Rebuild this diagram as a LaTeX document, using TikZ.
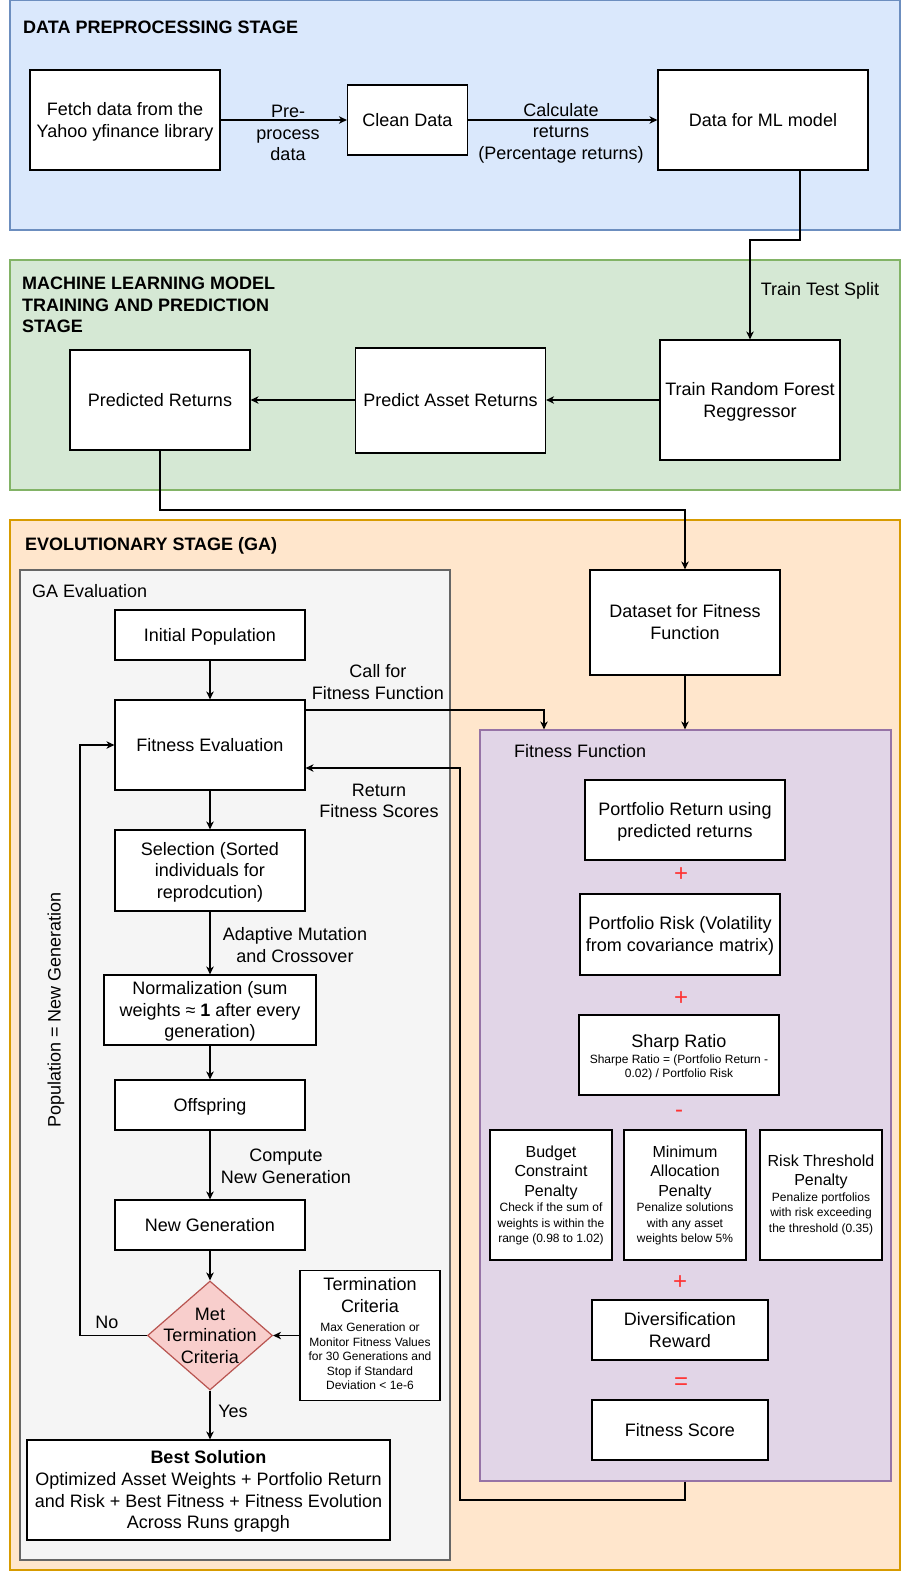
\documentclass[tikz,border=0pt]{standalone}
\usepackage{fontspec}
\setmainfont{Liberation Sans}
\usetikzlibrary{arrows.meta,shapes.geometric}
\definecolor{bluefill}{HTML}{DAE8FC}
\definecolor{bluedraw}{HTML}{6C8EBF}
\definecolor{greenfill}{HTML}{D5E8D4}
\definecolor{greendraw}{HTML}{82B366}
\definecolor{orangefill}{HTML}{FFE6CC}
\definecolor{orangedraw}{HTML}{D79B00}
\definecolor{grayfill}{HTML}{F5F5F5}
\definecolor{graydraw}{HTML}{666666}
\definecolor{purplefill}{HTML}{E1D5E7}
\definecolor{purpledraw}{HTML}{9673A6}
\definecolor{redfill}{HTML}{F8CECC}
\definecolor{reddraw}{HTML}{B85450}
\definecolor{signred}{HTML}{FF3333}
\newcommand{\mainfs}{\fontsize{18}{21.6}\selectfont}
\newcommand{\smallfs}{\fontsize{12}{14.4}\selectfont}
\newcommand{\midfs}{\fontsize{16}{19.2}\selectfont}
\newcommand{\signfs}{\fontsize{24}{28}\selectfont}
\tikzset{
  cont/.style={draw, line width=1.2pt, inner sep=0pt},
  box/.style={draw=black, fill=white, line width=1.2pt, align=center, inner sep=0pt, font=\mainfs},
  lbl/.style={align=center, inner sep=0pt, font=\mainfs},
  ttl/.style={align=left, inner sep=0pt, font=\mainfs\bfseries, anchor=west},
  sign/.style={inner sep=0pt, font=\signfs, text=signred},
  arr/.style={draw=black, line width=1.2pt, -{Stealth[length=8pt,width=7.5pt,inset=2.5pt]}},
  diam/.style={diamond, draw=reddraw, fill=redfill, line width=1.2pt, inner sep=0pt},
  dioA/.style={text height=17.04pt, text depth=4.56pt},
  dioB/.style={text height=38.64pt, text depth=4.56pt},
  dioC/.style={text height=60.24pt, text depth=4.56pt},
  dioD/.style={text height=81.84pt, text depth=4.56pt},
}
\begin{document}
\begin{tikzpicture}[x=1pt,y=-1pt]
\useasboundingbox (0,0) rectangle (901,1571);
\fill[white] (0,0) rectangle (901,1571);

% containers
\node[cont, draw=bluedraw, fill=bluefill, minimum width=890pt, minimum height=229.5pt] (blue) at (455,115.25) {};
\node[cont, draw=greendraw, fill=greenfill, minimum width=890pt, minimum height=230pt] (green) at (455,375) {};
\node[cont, draw=orangedraw, fill=orangefill, minimum width=890pt, minimum height=1050pt] (orange) at (455,1045) {};
\node[cont, draw=graydraw, fill=grayfill, minimum width=430pt, minimum height=990pt] (gray) at (235,1065) {};
\node[cont, draw=purpledraw, fill=purplefill, minimum width=411pt, minimum height=751pt] (purple) at (685.5,1105.5) {};

% titles
\node[ttl] (t1) at (23,27) {DATA PREPROCESSING STAGE};
\node[ttl] (t2) at (22,305) {MACHINE LEARNING MODEL\\TRAINING AND PREDICTION\\STAGE};
\node[ttl] (t3) at (25,546) {EVOLUTIONARY STAGE (GA)};
\node[lbl, anchor=west] (t4) at (32,591) {GA Evaluation};
\node[lbl, anchor=west] (t5) at (514,751) {Fitness Function};

% stage 1
\node[box, dioB, minimum width=190pt, minimum height=100pt] (fetch) at (125,120) {Fetch data from the\\Yahoo yfinance library};
\node[box, dioA, minimum width=120pt, minimum height=70pt] (clean) at (407.5,120) {Clean Data};
\node[box, dioA, minimum width=210pt, minimum height=100pt] (mldata) at (763,120) {Data for ML model};

% stage 2
\node[box, dioB, minimum width=180pt, minimum height=120pt] (train) at (750,400) {Train Random Forest\\Reggressor};
\node[box, dioA, minimum width=190pt, minimum height=105pt] (predict) at (450.5,400.5) {Predict Asset Returns};
\node[box, dioA, minimum width=180pt, minimum height=100pt] (predicted) at (160,400) {Predicted Returns};

% stage 3
\node[box, dioB, minimum width=190pt, minimum height=105pt] (dataset) at (685,622.5) {Dataset for Fitness\\Function};
\node[box, dioA, minimum width=190pt, minimum height=50pt] (initpop) at (210,635) {Initial Population};
\node[box, dioA, minimum width=190pt, minimum height=90pt] (fiteval) at (210,745) {Fitness Evaluation};
\node[box, dioC, minimum width=190pt, minimum height=81pt] (selection) at (210,870.5) {Selection (Sorted\\individuals for\\reprodcution)};
\node[box, dioC, minimum width=212pt, minimum height=70pt] (norm) at (210,1010) {Normalization (sum\\weights ≈ \textbf{1} after every\\generation)};
\node[box, dioA, minimum width=190pt, minimum height=50pt] (offspring) at (210,1105) {Offspring};
\node[box, dioA, minimum width=190pt, minimum height=50pt] (newgen) at (210,1225) {New Generation};
\node[diam, minimum width=125pt, minimum height=109pt] (dec) at (210,1335.5) {};
\node[lbl, dioC] (dectext) at (dec.center) {Met\\Termination\\Criteria};
\node[box, text height=112.8pt, text depth=4pt, minimum width=140pt, minimum height=130pt] (term) at (370,1335.5) {Termination\\Criteria\\[-1.8pt]{\smallfs Max Generation or}\\[-7.1pt]{\smallfs Monitor Fitness Values}\\[-7.1pt]{\smallfs for 30 Generations and}\\[-7.1pt]{\smallfs Stop if Standard}\\[-7.1pt]{\smallfs Deviation < 1e-6}};
\node[box, dioD, minimum width=363pt, minimum height=100pt] (best) at (208.5,1490) {\textbf{Best Solution}\\Optimized Asset Weights + Portfolio Return\\and Risk + Best Fitness + Fitness Evolution\\Across Runs grapgh};

% fitness function
\node[box, dioB, minimum width=200pt, minimum height=80pt] (portret) at (685,820) {Portfolio Return using\\predicted returns};
\node[box, dioB, minimum width=200pt, minimum height=81pt] (portrisk) at (680,934.5) {Portfolio Risk (Volatility\\from covariance matrix)};
\node[box, text height=48.6pt, text depth=4pt, minimum width=200pt, minimum height=80pt] (sharp) at (679,1055) {Sharp Ratio\\[-5.8pt]{\smallfs Sharpe Ratio = (Portfolio Return -}\\[-7.6pt]{\smallfs 0.02) / Portfolio Risk}};
\node[box, font=\midfs, text height=99.4pt, text depth=4pt, minimum width=122pt, minimum height=130pt] (budget) at (551,1195) {Budget\\Constraint\\Penalty\\[-3.6pt]{\smallfs Check if the sum of}\\[-3.7pt]{\smallfs weights is within the}\\[-3.7pt]{\smallfs range (0.98 to 1.02)}};
\node[box, font=\midfs, text height=99.4pt, text depth=4pt, minimum width=122pt, minimum height=130pt] (minalloc) at (685,1195) {Minimum\\Allocation\\Penalty\\[-3.6pt]{\smallfs Penalize solutions}\\[-3.7pt]{\smallfs with any asset}\\[-3.7pt]{\smallfs weights below 5\%}};
\node[box, font=\midfs, text height=78.2pt, text depth=4pt, minimum width=122pt, minimum height=130pt] (riskthr) at (821,1195) {Risk Threshold\\Penalty\\[-3.6pt]{\smallfs Penalize portfolios}\\[-3.9pt]{\smallfs with risk exceeding}\\[-3.9pt]{\smallfs the threshold (0.35)}};
\node[box, dioB, minimum width=176pt, minimum height=60pt] (divers) at (680,1330) {Diversification\\Reward};
\node[box, dioA, minimum width=176pt, minimum height=60pt] (fitscore) at (680,1430) {Fitness Score};

\node[sign] (s1) at (681,874.4) {+};
\node[sign] (s2) at (681,998.4) {+};
\node[sign] (s3) at (679,1113.8) {-};
\node[sign] (s4) at (680,1282.4) {+};
\node[sign] (s5) at (681,1383.3) {=};

% edge labels
\node[lbl] (l1) at (288,133) {Pre-\\process\\data};
\node[lbl] (l2) at (561,133) {Calculate\\returns\\(Percentage returns)};
\node[lbl] (l3) at (820,291) {Train Test Split};
\node[lbl] (l4) at (378,682) {Call for\\Fitness Function};
\node[lbl] (l5) at (379,801) {Return\\Fitness Scores};
\node[lbl] (l6) at (295,945) {Adaptive Mutation\\and Crossover};
\node[lbl] (l7) at (286,1166) {Compute\\New Generation};
\node[lbl] (l8) at (107,1322) {No};
\node[lbl] (l9) at (233,1411) {Yes};
\node[lbl, rotate=90] (l10) at (56,1010) {Population = New Generation};

% coordinates
\coordinate (j1) at (800,240);
\coordinate (j2) at (750,240);
\coordinate (j3) at (160,510);
\coordinate (j4) at (685,510);
\coordinate (c2) at (544,710);
\coordinate (r1) at (685,1500);
\coordinate (r2) at (460,1500);
\coordinate (r3) at (460,768);
\coordinate (q1) at (80,1335.5);
\coordinate (q2) at (80,745);

% connectors
\draw[arr] (fetch.east) -- (clean.west);
\draw[arr] (clean.east) -- (mldata.west);
\draw[arr] (mldata.south -| j1) -- (j1) -- (j2) -- (train.north);
\draw[arr] (train.west) -- (predict.east |- train.west);
\draw[arr] (predict.west |- train.west) -- (predicted.east);
\draw[arr] (predicted.south) -- (j3) -- (j4) -- (dataset.north);
\draw[arr] (dataset.south) -- (dataset.south |- purple.north);
\draw[arr] (initpop.south) -- (fiteval.north);
\draw[arr] (fiteval.east |- c2) -- (c2) -- (c2 |- purple.north);
\draw[arr] (purple.south -| r1) -- (r1) -- (r2) -- (r3) -- (fiteval.east |- r3);
\draw[arr] (fiteval.south) -- (selection.north);
\draw[arr] (selection.south) -- (norm.north);
\draw[arr] (norm.south) -- (offspring.north);
\draw[arr] (offspring.south) -- (newgen.north);
\draw[arr] (newgen.south) -- (dec.north);
\draw[arr] (dec.south) -- (dec.south |- best.north);
\draw[arr] (term.west) -- (dec.east);
\draw[arr] (dec.west) -- (q1) -- (q2) -- (fiteval.west |- q2);
\end{tikzpicture}
\end{document}
